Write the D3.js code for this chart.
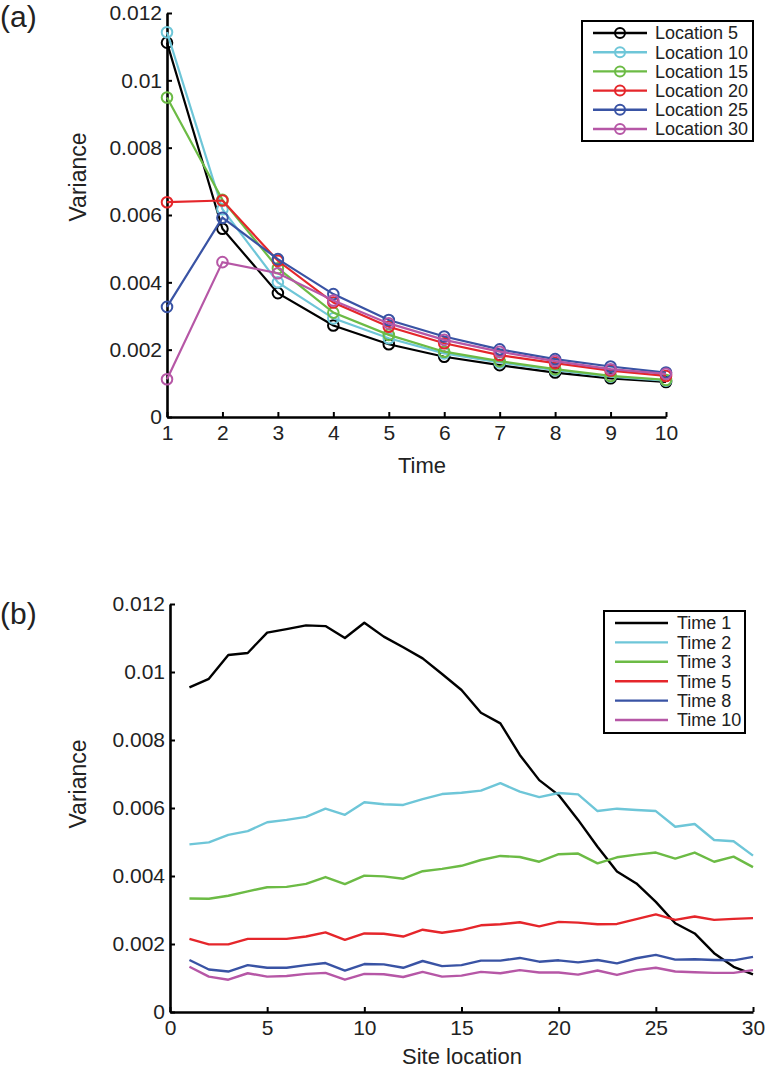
<!DOCTYPE html>
<html>
<head>
<meta charset="utf-8">
<script src="https://cdn.jsdelivr.net/npm/d3@7"></script>
<style>
  body { margin: 0; background: #fff; }
  svg text { font-family: "Liberation Sans", Arial, sans-serif; fill: #222; }
</style>
</head>
<body>
<div id="chart-area"></div>
<script>
// panel (a): variance over time at a few site locations
const timesA = [1, 2, 3, 4, 5, 6, 7, 8, 9, 10]
const loc5  = [0.01112, 0.00559, 0.00368, 0.00272, 0.00216, 0.00179, 0.00154, 0.00132, 0.00115, 0.00104]
const loc10 = [0.01143, 0.00617, 0.00400, 0.00293, 0.00234, 0.00189, 0.00162, 0.00139, 0.00120, 0.00108]
const loc15 = [0.00949, 0.00645, 0.00442, 0.00310, 0.00244, 0.00194, 0.00166, 0.00142, 0.00122, 0.00110]
const loc20 = [0.00638, 0.00643, 0.00464, 0.00340, 0.00268, 0.00219, 0.00184, 0.00160, 0.00138, 0.00122]
const loc25 = [0.00327, 0.00592, 0.00469, 0.00365, 0.00288, 0.00239, 0.00201, 0.00172, 0.00150, 0.00132]
const loc30 = [0.00112, 0.00460, 0.00427, 0.00346, 0.00278, 0.00229, 0.00194, 0.00166, 0.00142, 0.00128]
const namesA = ["Location 5", "Location 10", "Location 15", "Location 20", "Location 25", "Location 30"]

// panel (b): variance along the sites at a few times
const sitesB = [1, 2, 3, 4, 5, 6, 7, 8, 9, 10, 11, 12, 13, 14, 15, 16, 17, 18, 19, 20, 21, 22, 23, 24, 25, 26, 27, 28, 29, 30]
const time1  = [0.00955, 0.00980, 0.01050, 0.01056, 0.01116, 0.01126, 0.01137, 0.01135, 0.01100, 0.01145,
                0.01104, 0.01073, 0.01040, 0.00994, 0.00947, 0.00880, 0.00849, 0.00756, 0.00682, 0.00638,
                0.00565, 0.00486, 0.00413, 0.00378, 0.00324, 0.00261, 0.00231, 0.00173, 0.00133, 0.00111]
const time2  = [0.00493, 0.00499, 0.00521, 0.00532, 0.00558, 0.00565, 0.00574, 0.00598, 0.00580, 0.00617,
                0.00611, 0.00609, 0.00626, 0.00641, 0.00645, 0.00651, 0.00673, 0.00648, 0.00632, 0.00644,
                0.00640, 0.00591, 0.00598, 0.00594, 0.00591, 0.00545, 0.00553, 0.00506, 0.00502, 0.00460]
const time3  = [0.00334, 0.00333, 0.00342, 0.00355, 0.00367, 0.00368, 0.00377, 0.00397, 0.00376, 0.00401,
                0.00399, 0.00392, 0.00414, 0.00421, 0.00430, 0.00447, 0.00459, 0.00456, 0.00442, 0.00464,
                0.00466, 0.00437, 0.00455, 0.00463, 0.00469, 0.00451, 0.00469, 0.00442, 0.00457, 0.00426]
const time5  = [0.00215, 0.00199, 0.00199, 0.00215, 0.00215, 0.00215, 0.00222, 0.00234, 0.00212, 0.00231,
                0.00230, 0.00222, 0.00242, 0.00233, 0.00241, 0.00255, 0.00258, 0.00264, 0.00252, 0.00265,
                0.00263, 0.00258, 0.00259, 0.00273, 0.00287, 0.00271, 0.00281, 0.00271, 0.00274, 0.00276]
const time8  = [0.00153, 0.00125, 0.00119, 0.00138, 0.00130, 0.00130, 0.00138, 0.00144, 0.00122, 0.00141,
                0.00140, 0.00130, 0.00150, 0.00135, 0.00138, 0.00151, 0.00151, 0.00159, 0.00148, 0.00152,
                0.00146, 0.00153, 0.00143, 0.00158, 0.00168, 0.00154, 0.00155, 0.00153, 0.00152, 0.00162]
const time10 = [0.00133, 0.00104, 0.00095, 0.00114, 0.00104, 0.00106, 0.00112, 0.00115, 0.00095, 0.00112,
                0.00111, 0.00103, 0.00118, 0.00104, 0.00107, 0.00118, 0.00114, 0.00123, 0.00116, 0.00116,
                0.00110, 0.00122, 0.00109, 0.00123, 0.00130, 0.00119, 0.00117, 0.00115, 0.00115, 0.00123]
const namesB = ["Time 1", "Time 2", "Time 3", "Time 5", "Time 8", "Time 10"]

const yTicks = [0, 0.002, 0.004, 0.006, 0.008, 0.01, 0.012]
const yTickLabels = ["0", "0.002", "0.004", "0.006", "0.008", "0.01", "0.012"]
const xTicksA = [1, 2, 3, 4, 5, 6, 7, 8, 9, 10]
const xTicksB = [0, 5, 10, 15, 20, 25, 30]

const colors = ["#000000", "#6ec6d8", "#6cbb45", "#e5262b", "#3953a4", "#b657a6"]

const svgWidth = 780
const svgHeight = 1071

const svg = d3.select("#chart-area")
    .append("svg")
    .attr("width", svgWidth)
    .attr("height", svgHeight)

// matlab style axes: left + bottom only, ticks pointing inward
function drawAxes(xScale, yScale, xTicks, xTitle, xTitleX, xTitleY, yTitleY) {
    const yAxis = svg.append("g")
        .attr("transform", `translate(${xScale.range()[0]},0)`)
        .call(d3.axisLeft(yScale)
            .tickValues(yTicks)
            .tickFormat((d, i) => yTickLabels[i])
            .tickSizeInner(-5)
            .tickSizeOuter(0)
            .tickPadding(5))
    const xAxis = svg.append("g")
        .attr("transform", `translate(0,${yScale.range()[0]})`)
        .call(d3.axisBottom(xScale)
            .tickValues(xTicks)
            .tickFormat(d3.format("d"))
            .tickSizeInner(-5)
            .tickSizeOuter(0)
            .tickPadding(8))
    ;[xAxis, yAxis].forEach(g => {
        g.select(".domain").attr("stroke", "#000").attr("stroke-width", 2.6)
        g.selectAll(".tick line").attr("stroke", "#000").attr("stroke-width", 2)
        g.selectAll(".tick text")
            .style("font-size", "21px")
            .attr("fill", "#222")
    })

    svg.append("text")
        .attr("x", xTitleX)
        .attr("y", xTitleY)
        .attr("text-anchor", "middle")
        .style("font-size", "22px")
        .text(xTitle)

    svg.append("text")
        .attr("transform", `translate(${86},${yTitleY}) rotate(-90)`)
        .attr("text-anchor", "middle")
        .style("font-size", "23px")
        .text("Variance")
}

function drawLegend(x0, y0, w, h, names, rowStep, withMarker, lineLen, textX) {
    const lg = svg.append("g").attr("transform", `translate(${x0},${y0})`)
    lg.append("rect")
        .attr("width", w)
        .attr("height", h)
        .attr("fill", "#fff")
        .attr("stroke", "#000")
        .attr("stroke-width", 2)
    names.forEach((name, i) => {
        const yy = 12 + i * rowStep
        lg.append("line")
            .attr("x1", 11).attr("x2", 11 + lineLen)
            .attr("y1", yy).attr("y2", yy)
            .attr("stroke", colors[i])
            .attr("stroke-width", 2.4)
        if (withMarker) {
            lg.append("circle")
                .attr("cx", 11 + lineLen / 2)
                .attr("cy", yy)
                .attr("r", 5)
                .attr("fill", "none")
                .attr("stroke", colors[i])
                .attr("stroke-width", 2)
        }
        lg.append("text")
            .attr("x", textX)
            .attr("y", yy)
            .attr("dy", "0.36em")
            .style("font-size", "18px")
            .text(name)
    })
}

// ---------- panel (a)
const xScaleA = d3.scaleLinear().domain([1, 10]).range([167, 666])
const yScaleA = d3.scaleLinear().domain([0, 0.012]).range([417, 13])

drawAxes(xScaleA, yScaleA, xTicksA, "Time", 422, 473, 177)

const seriesA = [loc5, loc10, loc15, loc20, loc25, loc30]
const lineA = d3.line()
    .x((d, i) => xScaleA(timesA[i]))
    .y(d => yScaleA(d))

seriesA.forEach((vals, k) => {
    const g = svg.append("g")
    g.append("path")
        .attr("d", lineA(vals))
        .attr("fill", "none")
        .attr("stroke", colors[k])
        .attr("stroke-width", 2.2)
    g.selectAll("circle")
        .data(vals)
        .join("circle")
        .attr("cx", (d, i) => xScaleA(timesA[i]))
        .attr("cy", d => yScaleA(d))
        .attr("r", 5.3)
        .attr("fill", "none")
        .attr("stroke", colors[k])
        .attr("stroke-width", 2)
})

drawLegend(582, 21, 171, 120, namesA, 19.2, true, 54, 73)

svg.append("text")
    .attr("x", 0)
    .attr("y", 27)
    .style("font-size", "30px")
    .text("(a)")

// ---------- panel (b)
const xScaleB = d3.scaleLinear().domain([0, 30]).range([170, 753])
const yScaleB = d3.scaleLinear().domain([0, 0.012]).range([1012, 604])

drawAxes(xScaleB, yScaleB, xTicksB, "Site location", 462, 1064, 784)

const seriesB = [time1, time2, time3, time5, time8, time10]
const lineB = d3.line()
    .x((d, i) => xScaleB(sitesB[i]))
    .y(d => yScaleB(d))

seriesB.forEach((vals, k) => {
    svg.append("path")
        .attr("d", lineB(vals))
        .attr("fill", "none")
        .attr("stroke", colors[k])
        .attr("stroke-width", 2.4)
        .attr("stroke-linejoin", "round")
})

drawLegend(604, 611, 141, 122, namesB, 19.4, false, 53, 73)

svg.append("text")
    .attr("x", 0)
    .attr("y", 624)
    .style("font-size", "30px")
    .text("(b)")
</script>
</body>
</html>
